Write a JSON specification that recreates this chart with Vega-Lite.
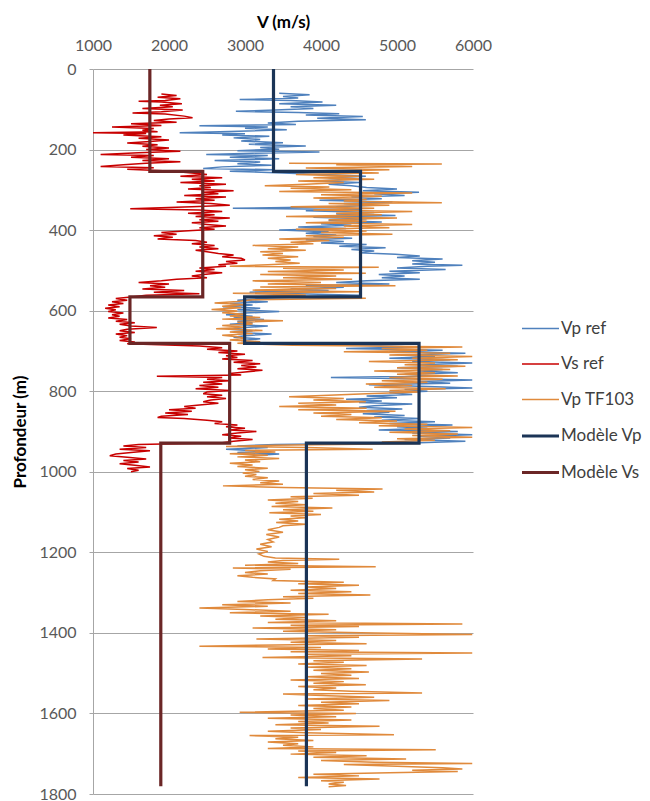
{
"$schema": "https://vega.github.io/schema/vega-lite/v6.json",
"autosize": {"type": "none"},
"width": 380, "height": 725,
"padding": {"left": 93, "top": 69, "right": 177, "bottom": 7},
"background": "white",
"config": {"view": {"stroke": null}, "font": "Lato"},
"data": {"values": [
{"s":"Vp ref","d":60,"v":3450},{"s":"Vp ref","d":64,"v":3850},{"s":"Vp ref","d":68,"v":3500},{"s":"Vp ref","d":72,"v":3700},{"s":"Vp ref","d":76,"v":2930},{"s":"Vp ref","d":78,"v":3600},{"s":"Vp ref","d":82,"v":4020},{"s":"Vp ref","d":86,"v":3450},{"s":"Vp ref","d":90,"v":4200},{"s":"Vp ref","d":94,"v":3600},{"s":"Vp ref","d":98,"v":3900},{"s":"Vp ref","d":102,"v":3400},{"s":"Vp ref","d":105,"v":2880},{"s":"Vp ref","d":108,"v":3700},{"s":"Vp ref","d":111,"v":4240},{"s":"Vp ref","d":114,"v":3800},{"s":"Vp ref","d":118,"v":4550},{"s":"Vp ref","d":122,"v":3950},{"s":"Vp ref","d":126,"v":4590},{"s":"Vp ref","d":130,"v":3700},{"s":"Vp ref","d":134,"v":3300},{"s":"Vp ref","d":138,"v":3670},{"s":"Vp ref","d":141,"v":2400},{"s":"Vp ref","d":144,"v":3300},{"s":"Vp ref","d":147,"v":3000},{"s":"Vp ref","d":151,"v":3550},{"s":"Vp ref","d":155,"v":2800},{"s":"Vp ref","d":158,"v":2140},{"s":"Vp ref","d":161,"v":3000},{"s":"Vp ref","d":164,"v":2700},{"s":"Vp ref","d":167,"v":3320},{"s":"Vp ref","d":171,"v":2850},{"s":"Vp ref","d":175,"v":3200},{"s":"Vp ref","d":179,"v":2950},{"s":"Vp ref","d":183,"v":3500},{"s":"Vp ref","d":187,"v":3050},{"s":"Vp ref","d":191,"v":3800},{"s":"Vp ref","d":195,"v":3200},{"s":"Vp ref","d":199,"v":3450},{"s":"Vp ref","d":203,"v":2900},{"s":"Vp ref","d":206,"v":3980},{"s":"Vp ref","d":209,"v":3100},{"s":"Vp ref","d":212,"v":2490},{"s":"Vp ref","d":215,"v":3300},{"s":"Vp ref","d":219,"v":2800},{"s":"Vp ref","d":223,"v":3450},{"s":"Vp ref","d":227,"v":2600},{"s":"Vp ref","d":231,"v":3200},{"s":"Vp ref","d":235,"v":2900},{"s":"Vp ref","d":239,"v":3350},{"s":"Vp ref","d":243,"v":2700},{"s":"Vp ref","d":247,"v":2450},{"s":"Vp ref","d":250,"v":3370},{"s":"Vp ref","d":254,"v":2800},{"s":"Vp ref","d":258,"v":3500},{"s":"Vp ref","d":262,"v":4020},{"s":"Vp ref","d":266,"v":4590},{"s":"Vp ref","d":270,"v":4100},{"s":"Vp ref","d":274,"v":4400},{"s":"Vp ref","d":278,"v":3950},{"s":"Vp ref","d":282,"v":4500},{"s":"Vp ref","d":286,"v":4100},{"s":"Vp ref","d":290,"v":4400},{"s":"Vp ref","d":294,"v":4600},{"s":"Vp ref","d":298,"v":5000},{"s":"Vp ref","d":302,"v":4550},{"s":"Vp ref","d":306,"v":5290},{"s":"Vp ref","d":310,"v":4700},{"s":"Vp ref","d":314,"v":5100},{"s":"Vp ref","d":318,"v":4400},{"s":"Vp ref","d":322,"v":4800},{"s":"Vp ref","d":326,"v":3980},{"s":"Vp ref","d":330,"v":4940},{"s":"Vp ref","d":334,"v":4300},{"s":"Vp ref","d":338,"v":4700},{"s":"Vp ref","d":342,"v":4200},{"s":"Vp ref","d":346,"v":2840},{"s":"Vp ref","d":349,"v":4500},{"s":"Vp ref","d":352,"v":3800},{"s":"Vp ref","d":356,"v":4700},{"s":"Vp ref","d":360,"v":4200},{"s":"Vp ref","d":364,"v":4980},{"s":"Vp ref","d":368,"v":3900},{"s":"Vp ref","d":372,"v":4600},{"s":"Vp ref","d":376,"v":4100},{"s":"Vp ref","d":380,"v":4800},{"s":"Vp ref","d":384,"v":4000},{"s":"Vp ref","d":388,"v":4400},{"s":"Vp ref","d":392,"v":3700},{"s":"Vp ref","d":396,"v":4330},{"s":"Vp ref","d":400,"v":3450},{"s":"Vp ref","d":404,"v":4100},{"s":"Vp ref","d":408,"v":3800},{"s":"Vp ref","d":412,"v":4200},{"s":"Vp ref","d":416,"v":3900},{"s":"Vp ref","d":420,"v":4410},{"s":"Vp ref","d":424,"v":3800},{"s":"Vp ref","d":428,"v":4300},{"s":"Vp ref","d":432,"v":4000},{"s":"Vp ref","d":436,"v":4600},{"s":"Vp ref","d":440,"v":4240},{"s":"Vp ref","d":444,"v":4850},{"s":"Vp ref","d":448,"v":4400},{"s":"Vp ref","d":452,"v":4700},{"s":"Vp ref","d":456,"v":4500},{"s":"Vp ref","d":460,"v":4980},{"s":"Vp ref","d":464,"v":5300},{"s":"Vp ref","d":468,"v":5000},{"s":"Vp ref","d":472,"v":5600},{"s":"Vp ref","d":476,"v":5200},{"s":"Vp ref","d":480,"v":5500},{"s":"Vp ref","d":484,"v":5200},{"s":"Vp ref","d":487,"v":5860},{"s":"Vp ref","d":490,"v":5400},{"s":"Vp ref","d":494,"v":5000},{"s":"Vp ref","d":498,"v":5640},{"s":"Vp ref","d":502,"v":4900},{"s":"Vp ref","d":506,"v":5300},{"s":"Vp ref","d":510,"v":4760},{"s":"Vp ref","d":514,"v":5100},{"s":"Vp ref","d":518,"v":4800},{"s":"Vp ref","d":522,"v":5300},{"s":"Vp ref","d":526,"v":4600},{"s":"Vp ref","d":530,"v":4200},{"s":"Vp ref","d":534,"v":4900},{"s":"Vp ref","d":538,"v":3800},{"s":"Vp ref","d":542,"v":4300},{"s":"Vp ref","d":546,"v":3600},{"s":"Vp ref","d":550,"v":4100},{"s":"Vp ref","d":554,"v":3060},{"s":"Vp ref","d":558,"v":3700},{"s":"Vp ref","d":562,"v":4500},{"s":"Vp ref","d":566,"v":3670},{"s":"Vp ref","d":570,"v":3200},{"s":"Vp ref","d":574,"v":2900},{"s":"Vp ref","d":578,"v":3300},{"s":"Vp ref","d":582,"v":2800},{"s":"Vp ref","d":586,"v":3100},{"s":"Vp ref","d":590,"v":2710},{"s":"Vp ref","d":594,"v":3200},{"s":"Vp ref","d":598,"v":2900},{"s":"Vp ref","d":602,"v":3450},{"s":"Vp ref","d":606,"v":3000},{"s":"Vp ref","d":610,"v":2750},{"s":"Vp ref","d":614,"v":3100},{"s":"Vp ref","d":618,"v":2850},{"s":"Vp ref","d":622,"v":3250},{"s":"Vp ref","d":626,"v":2900},{"s":"Vp ref","d":630,"v":3100},{"s":"Vp ref","d":634,"v":2800},{"s":"Vp ref","d":638,"v":3300},{"s":"Vp ref","d":642,"v":3000},{"s":"Vp ref","d":646,"v":2800},{"s":"Vp ref","d":650,"v":3100},{"s":"Vp ref","d":654,"v":2900},{"s":"Vp ref","d":658,"v":3350},{"s":"Vp ref","d":662,"v":3000},{"s":"Vp ref","d":666,"v":2850},{"s":"Vp ref","d":670,"v":3200},{"s":"Vp ref","d":674,"v":2950},{"s":"Vp ref","d":678,"v":3100},{"s":"Vp ref","d":682,"v":3400},{"s":"Vp ref","d":686,"v":4600},{"s":"Vp ref","d":690,"v":5200},{"s":"Vp ref","d":694,"v":4330},{"s":"Vp ref","d":698,"v":5600},{"s":"Vp ref","d":702,"v":4900},{"s":"Vp ref","d":706,"v":5900},{"s":"Vp ref","d":710,"v":5100},{"s":"Vp ref","d":714,"v":5500},{"s":"Vp ref","d":718,"v":4900},{"s":"Vp ref","d":722,"v":5700},{"s":"Vp ref","d":726,"v":5200},{"s":"Vp ref","d":730,"v":5990},{"s":"Vp ref","d":734,"v":5300},{"s":"Vp ref","d":738,"v":5800},{"s":"Vp ref","d":742,"v":5000},{"s":"Vp ref","d":746,"v":5600},{"s":"Vp ref","d":750,"v":5300},{"s":"Vp ref","d":754,"v":5800},{"s":"Vp ref","d":758,"v":5100},{"s":"Vp ref","d":762,"v":5500},{"s":"Vp ref","d":766,"v":4130},{"s":"Vp ref","d":769,"v":5200},{"s":"Vp ref","d":772,"v":5990},{"s":"Vp ref","d":776,"v":5300},{"s":"Vp ref","d":780,"v":5700},{"s":"Vp ref","d":784,"v":4630},{"s":"Vp ref","d":788,"v":5400},{"s":"Vp ref","d":792,"v":5990},{"s":"Vp ref","d":796,"v":5100},{"s":"Vp ref","d":800,"v":5400},{"s":"Vp ref","d":804,"v":4900},{"s":"Vp ref","d":808,"v":5200},{"s":"Vp ref","d":812,"v":4600},{"s":"Vp ref","d":816,"v":5000},{"s":"Vp ref","d":820,"v":4330},{"s":"Vp ref","d":824,"v":4800},{"s":"Vp ref","d":828,"v":4500},{"s":"Vp ref","d":832,"v":5200},{"s":"Vp ref","d":836,"v":4700},{"s":"Vp ref","d":840,"v":4500},{"s":"Vp ref","d":844,"v":5070},{"s":"Vp ref","d":848,"v":4600},{"s":"Vp ref","d":852,"v":4900},{"s":"Vp ref","d":856,"v":4550},{"s":"Vp ref","d":860,"v":5100},{"s":"Vp ref","d":864,"v":4700},{"s":"Vp ref","d":868,"v":5300},{"s":"Vp ref","d":872,"v":4800},{"s":"Vp ref","d":876,"v":5500},{"s":"Vp ref","d":880,"v":4900},{"s":"Vp ref","d":884,"v":5730},{"s":"Vp ref","d":888,"v":5000},{"s":"Vp ref","d":892,"v":5400},{"s":"Vp ref","d":896,"v":4760},{"s":"Vp ref","d":900,"v":5800},{"s":"Vp ref","d":904,"v":5200},{"s":"Vp ref","d":908,"v":5990},{"s":"Vp ref","d":912,"v":5300},{"s":"Vp ref","d":916,"v":5700},{"s":"Vp ref","d":920,"v":5100},{"s":"Vp ref","d":924,"v":5900},{"s":"Vp ref","d":928,"v":5300},{"s":"Vp ref","d":932,"v":3400},{"s":"Vp ref","d":936,"v":2900},{"s":"Vp ref","d":940,"v":3300},{"s":"Vp ref","d":944,"v":2750},{"s":"Vp ref","d":948,"v":3200},{"s":"Vp ref","d":952,"v":2900},{"s":"Vp ref","d":956,"v":3450},{"s":"Vp ref","d":960,"v":3100},
{"s":"Vs ref","d":62,"v":1900},{"s":"Vs ref","d":66,"v":2100},{"s":"Vs ref","d":70,"v":1850},{"s":"Vs ref","d":74,"v":2150},{"s":"Vs ref","d":78,"v":1950},{"s":"Vs ref","d":80,"v":1600},{"s":"Vs ref","d":82,"v":1900},{"s":"Vs ref","d":86,"v":2170},{"s":"Vs ref","d":90,"v":1880},{"s":"Vs ref","d":94,"v":2050},{"s":"Vs ref","d":98,"v":1650},{"s":"Vs ref","d":102,"v":2180},{"s":"Vs ref","d":106,"v":1900},{"s":"Vs ref","d":109,"v":1520},{"s":"Vs ref","d":112,"v":1950},{"s":"Vs ref","d":117,"v":2200},{"s":"Vs ref","d":121,"v":2310},{"s":"Vs ref","d":124,"v":2000},{"s":"Vs ref","d":128,"v":1800},{"s":"Vs ref","d":132,"v":2100},{"s":"Vs ref","d":136,"v":1500},{"s":"Vs ref","d":140,"v":1900},{"s":"Vs ref","d":144,"v":1250},{"s":"Vs ref","d":148,"v":1800},{"s":"Vs ref","d":152,"v":1650},{"s":"Vs ref","d":156,"v":1850},{"s":"Vs ref","d":158,"v":1000},{"s":"Vs ref","d":160,"v":1700},{"s":"Vs ref","d":164,"v":1400},{"s":"Vs ref","d":168,"v":1900},{"s":"Vs ref","d":172,"v":1600},{"s":"Vs ref","d":176,"v":2000},{"s":"Vs ref","d":180,"v":1750},{"s":"Vs ref","d":184,"v":1450},{"s":"Vs ref","d":188,"v":1850},{"s":"Vs ref","d":192,"v":1650},{"s":"Vs ref","d":196,"v":2000},{"s":"Vs ref","d":200,"v":1700},{"s":"Vs ref","d":204,"v":2150},{"s":"Vs ref","d":208,"v":1600},{"s":"Vs ref","d":212,"v":1100},{"s":"Vs ref","d":215,"v":1800},{"s":"Vs ref","d":219,"v":1500},{"s":"Vs ref","d":223,"v":2000},{"s":"Vs ref","d":227,"v":1650},{"s":"Vs ref","d":230,"v":2150},{"s":"Vs ref","d":234,"v":1700},{"s":"Vs ref","d":238,"v":1400},{"s":"Vs ref","d":242,"v":1100},{"s":"Vs ref","d":245,"v":1800},{"s":"Vs ref","d":249,"v":1450},{"s":"Vs ref","d":253,"v":2000},{"s":"Vs ref","d":258,"v":2300},{"s":"Vs ref","d":262,"v":2500},{"s":"Vs ref","d":266,"v":2150},{"s":"Vs ref","d":270,"v":2700},{"s":"Vs ref","d":274,"v":2300},{"s":"Vs ref","d":278,"v":2600},{"s":"Vs ref","d":282,"v":2150},{"s":"Vs ref","d":286,"v":2750},{"s":"Vs ref","d":290,"v":2400},{"s":"Vs ref","d":294,"v":2550},{"s":"Vs ref","d":298,"v":2250},{"s":"Vs ref","d":302,"v":2850},{"s":"Vs ref","d":306,"v":2450},{"s":"Vs ref","d":310,"v":2650},{"s":"Vs ref","d":314,"v":2200},{"s":"Vs ref","d":318,"v":2750},{"s":"Vs ref","d":322,"v":2350},{"s":"Vs ref","d":326,"v":2600},{"s":"Vs ref","d":330,"v":2100},{"s":"Vs ref","d":334,"v":2550},{"s":"Vs ref","d":338,"v":2800},{"s":"Vs ref","d":342,"v":2300},{"s":"Vs ref","d":347,"v":1490},{"s":"Vs ref","d":350,"v":2400},{"s":"Vs ref","d":354,"v":2700},{"s":"Vs ref","d":358,"v":2250},{"s":"Vs ref","d":362,"v":2600},{"s":"Vs ref","d":366,"v":2350},{"s":"Vs ref","d":370,"v":2800},{"s":"Vs ref","d":374,"v":2400},{"s":"Vs ref","d":378,"v":2650},{"s":"Vs ref","d":382,"v":2300},{"s":"Vs ref","d":386,"v":2500},{"s":"Vs ref","d":390,"v":2750},{"s":"Vs ref","d":394,"v":2400},{"s":"Vs ref","d":398,"v":2600},{"s":"Vs ref","d":402,"v":2200},{"s":"Vs ref","d":406,"v":1900},{"s":"Vs ref","d":410,"v":2100},{"s":"Vs ref","d":414,"v":1800},{"s":"Vs ref","d":418,"v":2050},{"s":"Vs ref","d":422,"v":1850},{"s":"Vs ref","d":426,"v":2350},{"s":"Vs ref","d":430,"v":2500},{"s":"Vs ref","d":434,"v":2300},{"s":"Vs ref","d":438,"v":2600},{"s":"Vs ref","d":442,"v":2400},{"s":"Vs ref","d":446,"v":2650},{"s":"Vs ref","d":450,"v":2350},{"s":"Vs ref","d":454,"v":2500},{"s":"Vs ref","d":458,"v":2650},{"s":"Vs ref","d":462,"v":2850},{"s":"Vs ref","d":466,"v":2700},{"s":"Vs ref","d":470,"v":2950},{"s":"Vs ref","d":474,"v":3000},{"s":"Vs ref","d":478,"v":2750},{"s":"Vs ref","d":482,"v":2900},{"s":"Vs ref","d":486,"v":2650},{"s":"Vs ref","d":490,"v":2750},{"s":"Vs ref","d":494,"v":2400},{"s":"Vs ref","d":498,"v":2600},{"s":"Vs ref","d":502,"v":2350},{"s":"Vs ref","d":506,"v":2700},{"s":"Vs ref","d":510,"v":2450},{"s":"Vs ref","d":514,"v":2300},{"s":"Vs ref","d":518,"v":2500},{"s":"Vs ref","d":522,"v":2100},{"s":"Vs ref","d":526,"v":1900},{"s":"Vs ref","d":530,"v":1600},{"s":"Vs ref","d":534,"v":2000},{"s":"Vs ref","d":538,"v":1750},{"s":"Vs ref","d":542,"v":1950},{"s":"Vs ref","d":546,"v":1650},{"s":"Vs ref","d":550,"v":2200},{"s":"Vs ref","d":554,"v":1800},{"s":"Vs ref","d":558,"v":2400},{"s":"Vs ref","d":562,"v":1700},{"s":"Vs ref","d":566,"v":1500},{"s":"Vs ref","d":570,"v":1300},{"s":"Vs ref","d":574,"v":1450},{"s":"Vs ref","d":578,"v":1250},{"s":"Vs ref","d":582,"v":1400},{"s":"Vs ref","d":586,"v":1200},{"s":"Vs ref","d":590,"v":1350},{"s":"Vs ref","d":594,"v":1160},{"s":"Vs ref","d":598,"v":1300},{"s":"Vs ref","d":602,"v":1200},{"s":"Vs ref","d":606,"v":1400},{"s":"Vs ref","d":610,"v":1250},{"s":"Vs ref","d":614,"v":1350},{"s":"Vs ref","d":618,"v":1200},{"s":"Vs ref","d":622,"v":1450},{"s":"Vs ref","d":626,"v":1300},{"s":"Vs ref","d":630,"v":1550},{"s":"Vs ref","d":634,"v":1350},{"s":"Vs ref","d":638,"v":1500},{"s":"Vs ref","d":642,"v":1840},{"s":"Vs ref","d":646,"v":1450},{"s":"Vs ref","d":650,"v":1350},{"s":"Vs ref","d":654,"v":1550},{"s":"Vs ref","d":658,"v":1300},{"s":"Vs ref","d":662,"v":1450},{"s":"Vs ref","d":666,"v":1350},{"s":"Vs ref","d":670,"v":1500},{"s":"Vs ref","d":674,"v":1350},{"s":"Vs ref","d":678,"v":1550},{"s":"Vs ref","d":682,"v":1450},{"s":"Vs ref","d":688,"v":2400},{"s":"Vs ref","d":692,"v":2700},{"s":"Vs ref","d":696,"v":2500},{"s":"Vs ref","d":700,"v":2900},{"s":"Vs ref","d":704,"v":2650},{"s":"Vs ref","d":708,"v":3000},{"s":"Vs ref","d":712,"v":2750},{"s":"Vs ref","d":716,"v":2900},{"s":"Vs ref","d":720,"v":2700},{"s":"Vs ref","d":724,"v":3100},{"s":"Vs ref","d":728,"v":2850},{"s":"Vs ref","d":732,"v":3200},{"s":"Vs ref","d":736,"v":2950},{"s":"Vs ref","d":740,"v":3150},{"s":"Vs ref","d":744,"v":2900},{"s":"Vs ref","d":748,"v":3230},{"s":"Vs ref","d":752,"v":3000},{"s":"Vs ref","d":756,"v":2800},{"s":"Vs ref","d":760,"v":2950},{"s":"Vs ref","d":763,"v":1840},{"s":"Vs ref","d":766,"v":2700},{"s":"Vs ref","d":770,"v":2500},{"s":"Vs ref","d":774,"v":2800},{"s":"Vs ref","d":778,"v":2450},{"s":"Vs ref","d":782,"v":2700},{"s":"Vs ref","d":786,"v":2400},{"s":"Vs ref","d":790,"v":2650},{"s":"Vs ref","d":794,"v":2350},{"s":"Vs ref","d":798,"v":2800},{"s":"Vs ref","d":802,"v":2500},{"s":"Vs ref","d":806,"v":2450},{"s":"Vs ref","d":810,"v":2700},{"s":"Vs ref","d":814,"v":2500},{"s":"Vs ref","d":818,"v":2750},{"s":"Vs ref","d":822,"v":2550},{"s":"Vs ref","d":826,"v":2450},{"s":"Vs ref","d":830,"v":2650},{"s":"Vs ref","d":834,"v":2400},{"s":"Vs ref","d":838,"v":2200},{"s":"Vs ref","d":842,"v":2350},{"s":"Vs ref","d":846,"v":2000},{"s":"Vs ref","d":850,"v":2300},{"s":"Vs ref","d":854,"v":1950},{"s":"Vs ref","d":858,"v":2250},{"s":"Vs ref","d":862,"v":1900},{"s":"Vs ref","d":865,"v":1850},{"s":"Vs ref","d":868,"v":2200},{"s":"Vs ref","d":872,"v":2500},{"s":"Vs ref","d":876,"v":2700},{"s":"Vs ref","d":880,"v":2600},{"s":"Vs ref","d":884,"v":2900},{"s":"Vs ref","d":888,"v":2750},{"s":"Vs ref","d":892,"v":3000},{"s":"Vs ref","d":896,"v":2800},{"s":"Vs ref","d":900,"v":3150},{"s":"Vs ref","d":904,"v":2900},{"s":"Vs ref","d":908,"v":2700},{"s":"Vs ref","d":912,"v":2950},{"s":"Vs ref","d":916,"v":2800},{"s":"Vs ref","d":920,"v":3100},{"s":"Vs ref","d":924,"v":2850},{"s":"Vs ref","d":928,"v":2700},{"s":"Vs ref","d":932,"v":1600},{"s":"Vs ref","d":936,"v":1400},{"s":"Vs ref","d":940,"v":1700},{"s":"Vs ref","d":944,"v":1350},{"s":"Vs ref","d":948,"v":1750},{"s":"Vs ref","d":952,"v":1500},{"s":"Vs ref","d":956,"v":1300},{"s":"Vs ref","d":960,"v":1220},{"s":"Vs ref","d":964,"v":1450},{"s":"Vs ref","d":968,"v":1700},{"s":"Vs ref","d":972,"v":1400},{"s":"Vs ref","d":976,"v":1600},{"s":"Vs ref","d":980,"v":1350},{"s":"Vs ref","d":984,"v":1550},{"s":"Vs ref","d":988,"v":1750},{"s":"Vs ref","d":992,"v":1450},{"s":"Vs ref","d":996,"v":1600},{"s":"Vs ref","d":1000,"v":1500},
{"s":"Vp TF103","d":234,"v":3580},{"s":"Vp TF103","d":236,"v":5590},{"s":"Vp TF103","d":238,"v":4200},{"s":"Vp TF103","d":242,"v":5200},{"s":"Vp TF103","d":246,"v":3800},{"s":"Vp TF103","d":250,"v":4900},{"s":"Vp TF103","d":254,"v":4000},{"s":"Vp TF103","d":258,"v":4760},{"s":"Vp TF103","d":262,"v":3670},{"s":"Vp TF103","d":266,"v":4500},{"s":"Vp TF103","d":270,"v":3900},{"s":"Vp TF103","d":274,"v":4700},{"s":"Vp TF103","d":278,"v":3700},{"s":"Vp TF103","d":282,"v":4300},{"s":"Vp TF103","d":286,"v":3800},{"s":"Vp TF103","d":290,"v":3260},{"s":"Vp TF103","d":293,"v":4110},{"s":"Vp TF103","d":296,"v":3600},{"s":"Vp TF103","d":300,"v":4400},{"s":"Vp TF103","d":304,"v":3450},{"s":"Vp TF103","d":308,"v":5200},{"s":"Vp TF103","d":312,"v":4000},{"s":"Vp TF103","d":316,"v":4800},{"s":"Vp TF103","d":320,"v":3900},{"s":"Vp TF103","d":324,"v":4600},{"s":"Vp TF103","d":328,"v":4300},{"s":"Vp TF103","d":332,"v":5590},{"s":"Vp TF103","d":334,"v":4100},{"s":"Vp TF103","d":338,"v":4900},{"s":"Vp TF103","d":342,"v":3600},{"s":"Vp TF103","d":346,"v":4700},{"s":"Vp TF103","d":350,"v":3900},{"s":"Vp TF103","d":354,"v":5200},{"s":"Vp TF103","d":358,"v":4200},{"s":"Vp TF103","d":362,"v":4800},{"s":"Vp TF103","d":366,"v":3540},{"s":"Vp TF103","d":370,"v":5000},{"s":"Vp TF103","d":374,"v":4100},{"s":"Vp TF103","d":378,"v":4600},{"s":"Vp TF103","d":382,"v":3800},{"s":"Vp TF103","d":386,"v":5200},{"s":"Vp TF103","d":390,"v":4300},{"s":"Vp TF103","d":394,"v":4900},{"s":"Vp TF103","d":398,"v":3670},{"s":"Vp TF103","d":402,"v":4600},{"s":"Vp TF103","d":406,"v":4000},{"s":"Vp TF103","d":410,"v":4940},{"s":"Vp TF103","d":414,"v":3800},{"s":"Vp TF103","d":418,"v":4300},{"s":"Vp TF103","d":422,"v":3450},{"s":"Vp TF103","d":426,"v":4110},{"s":"Vp TF103","d":430,"v":3600},{"s":"Vp TF103","d":434,"v":3900},{"s":"Vp TF103","d":438,"v":3100},{"s":"Vp TF103","d":442,"v":3700},{"s":"Vp TF103","d":446,"v":3300},{"s":"Vp TF103","d":450,"v":3800},{"s":"Vp TF103","d":454,"v":3200},{"s":"Vp TF103","d":458,"v":3500},{"s":"Vp TF103","d":462,"v":3230},{"s":"Vp TF103","d":466,"v":3700},{"s":"Vp TF103","d":470,"v":3300},{"s":"Vp TF103","d":474,"v":3600},{"s":"Vp TF103","d":478,"v":3400},{"s":"Vp TF103","d":482,"v":3720},{"s":"Vp TF103","d":486,"v":3300},{"s":"Vp TF103","d":490,"v":2800},{"s":"Vp TF103","d":492,"v":4760},{"s":"Vp TF103","d":495,"v":3500},{"s":"Vp TF103","d":499,"v":4300},{"s":"Vp TF103","d":503,"v":3300},{"s":"Vp TF103","d":507,"v":4590},{"s":"Vp TF103","d":510,"v":3200},{"s":"Vp TF103","d":514,"v":4200},{"s":"Vp TF103","d":518,"v":3500},{"s":"Vp TF103","d":522,"v":4410},{"s":"Vp TF103","d":526,"v":3100},{"s":"Vp TF103","d":530,"v":4000},{"s":"Vp TF103","d":534,"v":3300},{"s":"Vp TF103","d":538,"v":4980},{"s":"Vp TF103","d":541,"v":3200},{"s":"Vp TF103","d":545,"v":4200},{"s":"Vp TF103","d":549,"v":3100},{"s":"Vp TF103","d":553,"v":4500},{"s":"Vp TF103","d":557,"v":2840},{"s":"Vp TF103","d":561,"v":3800},{"s":"Vp TF103","d":565,"v":3200},{"s":"Vp TF103","d":569,"v":4590},{"s":"Vp TF103","d":573,"v":3100},{"s":"Vp TF103","d":577,"v":2900},{"s":"Vp TF103","d":581,"v":2600},{"s":"Vp TF103","d":585,"v":3000},{"s":"Vp TF103","d":589,"v":2700},{"s":"Vp TF103","d":593,"v":2950},{"s":"Vp TF103","d":597,"v":2560},{"s":"Vp TF103","d":601,"v":2900},{"s":"Vp TF103","d":605,"v":2700},{"s":"Vp TF103","d":609,"v":3010},{"s":"Vp TF103","d":613,"v":2800},{"s":"Vp TF103","d":617,"v":3200},{"s":"Vp TF103","d":621,"v":2700},{"s":"Vp TF103","d":625,"v":3500},{"s":"Vp TF103","d":629,"v":2900},{"s":"Vp TF103","d":633,"v":3100},{"s":"Vp TF103","d":637,"v":2700},{"s":"Vp TF103","d":641,"v":3000},{"s":"Vp TF103","d":645,"v":2620},{"s":"Vp TF103","d":649,"v":3230},{"s":"Vp TF103","d":653,"v":2800},{"s":"Vp TF103","d":657,"v":3100},{"s":"Vp TF103","d":661,"v":2700},{"s":"Vp TF103","d":665,"v":2900},{"s":"Vp TF103","d":669,"v":3000},{"s":"Vp TF103","d":673,"v":2800},{"s":"Vp TF103","d":677,"v":3200},{"s":"Vp TF103","d":681,"v":2900},{"s":"Vp TF103","d":686,"v":3630},{"s":"Vp TF103","d":690,"v":5860},{"s":"Vp TF103","d":694,"v":4800},{"s":"Vp TF103","d":698,"v":5400},{"s":"Vp TF103","d":702,"v":4300},{"s":"Vp TF103","d":706,"v":5700},{"s":"Vp TF103","d":710,"v":4900},{"s":"Vp TF103","d":714,"v":5990},{"s":"Vp TF103","d":718,"v":5200},{"s":"Vp TF103","d":722,"v":5800},{"s":"Vp TF103","d":726,"v":4630},{"s":"Vp TF103","d":730,"v":5500},{"s":"Vp TF103","d":734,"v":5100},{"s":"Vp TF103","d":738,"v":5900},{"s":"Vp TF103","d":742,"v":5000},{"s":"Vp TF103","d":746,"v":5700},{"s":"Vp TF103","d":750,"v":4700},{"s":"Vp TF103","d":754,"v":5500},{"s":"Vp TF103","d":758,"v":5000},{"s":"Vp TF103","d":762,"v":5800},{"s":"Vp TF103","d":766,"v":4900},{"s":"Vp TF103","d":770,"v":5600},{"s":"Vp TF103","d":774,"v":4800},{"s":"Vp TF103","d":778,"v":5400},{"s":"Vp TF103","d":782,"v":4590},{"s":"Vp TF103","d":786,"v":5200},{"s":"Vp TF103","d":790,"v":4700},{"s":"Vp TF103","d":794,"v":5640},{"s":"Vp TF103","d":798,"v":4900},{"s":"Vp TF103","d":802,"v":5300},{"s":"Vp TF103","d":806,"v":4600},{"s":"Vp TF103","d":810,"v":4100},{"s":"Vp TF103","d":814,"v":3580},{"s":"Vp TF103","d":818,"v":4300},{"s":"Vp TF103","d":822,"v":3900},{"s":"Vp TF103","d":826,"v":4590},{"s":"Vp TF103","d":830,"v":3700},{"s":"Vp TF103","d":834,"v":4200},{"s":"Vp TF103","d":838,"v":3450},{"s":"Vp TF103","d":842,"v":4600},{"s":"Vp TF103","d":846,"v":3700},{"s":"Vp TF103","d":850,"v":4980},{"s":"Vp TF103","d":854,"v":3900},{"s":"Vp TF103","d":858,"v":4400},{"s":"Vp TF103","d":862,"v":4000},{"s":"Vp TF103","d":866,"v":4800},{"s":"Vp TF103","d":870,"v":4200},{"s":"Vp TF103","d":874,"v":5000},{"s":"Vp TF103","d":878,"v":4500},{"s":"Vp TF103","d":882,"v":5400},{"s":"Vp TF103","d":886,"v":4760},{"s":"Vp TF103","d":890,"v":5990},{"s":"Vp TF103","d":894,"v":5100},{"s":"Vp TF103","d":898,"v":5700},{"s":"Vp TF103","d":902,"v":4900},{"s":"Vp TF103","d":906,"v":5800},{"s":"Vp TF103","d":910,"v":5200},{"s":"Vp TF103","d":914,"v":5990},{"s":"Vp TF103","d":918,"v":5000},{"s":"Vp TF103","d":922,"v":5500},{"s":"Vp TF103","d":926,"v":4800},{"s":"Vp TF103","d":930,"v":5300},{"s":"Vp TF103","d":934,"v":3400},{"s":"Vp TF103","d":937,"v":2750},{"s":"Vp TF103","d":940,"v":3800},{"s":"Vp TF103","d":944,"v":4680},{"s":"Vp TF103","d":947,"v":3000},{"s":"Vp TF103","d":951,"v":3400},{"s":"Vp TF103","d":955,"v":2800},{"s":"Vp TF103","d":959,"v":3300},{"s":"Vp TF103","d":963,"v":2900},{"s":"Vp TF103","d":967,"v":3450},{"s":"Vp TF103","d":971,"v":3000},{"s":"Vp TF103","d":975,"v":3200},{"s":"Vp TF103","d":979,"v":2800},{"s":"Vp TF103","d":983,"v":3100},{"s":"Vp TF103","d":987,"v":2900},{"s":"Vp TF103","d":991,"v":3300},{"s":"Vp TF103","d":995,"v":3000},{"s":"Vp TF103","d":999,"v":3190},{"s":"Vp TF103","d":1003,"v":2970},{"s":"Vp TF103","d":1007,"v":3150},{"s":"Vp TF103","d":1011,"v":3000},{"s":"Vp TF103","d":1015,"v":3300},{"s":"Vp TF103","d":1019,"v":3100},{"s":"Vp TF103","d":1023,"v":3450},{"s":"Vp TF103","d":1027,"v":3200},{"s":"Vp TF103","d":1031,"v":3500},{"s":"Vp TF103","d":1035,"v":2710},{"s":"Vp TF103","d":1039,"v":3500},{"s":"Vp TF103","d":1043,"v":4810},{"s":"Vp TF103","d":1046,"v":4200},{"s":"Vp TF103","d":1050,"v":4700},{"s":"Vp TF103","d":1054,"v":3900},{"s":"Vp TF103","d":1058,"v":4500},{"s":"Vp TF103","d":1062,"v":3600},{"s":"Vp TF103","d":1066,"v":3890},{"s":"Vp TF103","d":1070,"v":3300},{"s":"Vp TF103","d":1074,"v":3700},{"s":"Vp TF103","d":1078,"v":3400},{"s":"Vp TF103","d":1082,"v":3800},{"s":"Vp TF103","d":1086,"v":3350},{"s":"Vp TF103","d":1090,"v":4150},{"s":"Vp TF103","d":1094,"v":3500},{"s":"Vp TF103","d":1098,"v":3900},{"s":"Vp TF103","d":1102,"v":3320},{"s":"Vp TF103","d":1106,"v":4000},{"s":"Vp TF103","d":1110,"v":3600},{"s":"Vp TF103","d":1114,"v":3800},{"s":"Vp TF103","d":1118,"v":3450},{"s":"Vp TF103","d":1122,"v":3700},{"s":"Vp TF103","d":1126,"v":3410},{"s":"Vp TF103","d":1130,"v":3800},{"s":"Vp TF103","d":1134,"v":3500},{"s":"Vp TF103","d":1138,"v":3450},{"s":"Vp TF103","d":1144,"v":3300},{"s":"Vp TF103","d":1150,"v":3500},{"s":"Vp TF103","d":1156,"v":3280},{"s":"Vp TF103","d":1162,"v":3450},{"s":"Vp TF103","d":1168,"v":3300},{"s":"Vp TF103","d":1174,"v":3370},{"s":"Vp TF103","d":1180,"v":3200},{"s":"Vp TF103","d":1186,"v":3350},{"s":"Vp TF103","d":1192,"v":3150},{"s":"Vp TF103","d":1198,"v":3300},{"s":"Vp TF103","d":1204,"v":3180},{"s":"Vp TF103","d":1210,"v":3250},{"s":"Vp TF103","d":1214,"v":3400},{"s":"Vp TF103","d":1217,"v":4240},{"s":"Vp TF103","d":1220,"v":3500},{"s":"Vp TF103","d":1224,"v":3300},{"s":"Vp TF103","d":1228,"v":3700},{"s":"Vp TF103","d":1232,"v":3000},{"s":"Vp TF103","d":1236,"v":4720},{"s":"Vp TF103","d":1239,"v":2840},{"s":"Vp TF103","d":1242,"v":3600},{"s":"Vp TF103","d":1246,"v":3200},{"s":"Vp TF103","d":1250,"v":3000},{"s":"Vp TF103","d":1254,"v":3300},{"s":"Vp TF103","d":1258,"v":2900},{"s":"Vp TF103","d":1262,"v":3100},{"s":"Vp TF103","d":1266,"v":3400},{"s":"Vp TF103","d":1270,"v":3370},{"s":"Vp TF103","d":1274,"v":4300},{"s":"Vp TF103","d":1278,"v":3700},{"s":"Vp TF103","d":1282,"v":4500},{"s":"Vp TF103","d":1286,"v":3800},{"s":"Vp TF103","d":1290,"v":4200},{"s":"Vp TF103","d":1294,"v":3600},{"s":"Vp TF103","d":1298,"v":4400},{"s":"Vp TF103","d":1302,"v":3700},{"s":"Vp TF103","d":1306,"v":4650},{"s":"Vp TF103","d":1310,"v":3500},{"s":"Vp TF103","d":1314,"v":3900},{"s":"Vp TF103","d":1318,"v":3300},{"s":"Vp TF103","d":1322,"v":2900},{"s":"Vp TF103","d":1326,"v":3600},{"s":"Vp TF103","d":1330,"v":2700},{"s":"Vp TF103","d":1334,"v":3300},{"s":"Vp TF103","d":1338,"v":2400},{"s":"Vp TF103","d":1342,"v":3000},{"s":"Vp TF103","d":1346,"v":3600},{"s":"Vp TF103","d":1350,"v":2800},{"s":"Vp TF103","d":1354,"v":4100},{"s":"Vp TF103","d":1358,"v":3200},{"s":"Vp TF103","d":1362,"v":3800},{"s":"Vp TF103","d":1366,"v":3400},{"s":"Vp TF103","d":1370,"v":4200},{"s":"Vp TF103","d":1374,"v":3300},{"s":"Vp TF103","d":1378,"v":5860},{"s":"Vp TF103","d":1381,"v":3600},{"s":"Vp TF103","d":1384,"v":4500},{"s":"Vp TF103","d":1388,"v":3100},{"s":"Vp TF103","d":1392,"v":4200},{"s":"Vp TF103","d":1396,"v":3500},{"s":"Vp TF103","d":1400,"v":4700},{"s":"Vp TF103","d":1404,"v":5990},{"s":"Vp TF103","d":1407,"v":3800},{"s":"Vp TF103","d":1411,"v":4500},{"s":"Vp TF103","d":1415,"v":3150},{"s":"Vp TF103","d":1419,"v":4200},{"s":"Vp TF103","d":1423,"v":3600},{"s":"Vp TF103","d":1427,"v":4600},{"s":"Vp TF103","d":1430,"v":3400},{"s":"Vp TF103","d":1433,"v":2400},{"s":"Vp TF103","d":1436,"v":4000},{"s":"Vp TF103","d":1440,"v":3300},{"s":"Vp TF103","d":1444,"v":4500},{"s":"Vp TF103","d":1447,"v":3600},{"s":"Vp TF103","d":1450,"v":5990},{"s":"Vp TF103","d":1453,"v":3800},{"s":"Vp TF103","d":1457,"v":4400},{"s":"Vp TF103","d":1461,"v":3230},{"s":"Vp TF103","d":1465,"v":5330},{"s":"Vp TF103","d":1469,"v":3900},{"s":"Vp TF103","d":1473,"v":4300},{"s":"Vp TF103","d":1477,"v":3700},{"s":"Vp TF103","d":1481,"v":4600},{"s":"Vp TF103","d":1485,"v":3800},{"s":"Vp TF103","d":1489,"v":4400},{"s":"Vp TF103","d":1493,"v":3900},{"s":"Vp TF103","d":1497,"v":4630},{"s":"Vp TF103","d":1501,"v":4000},{"s":"Vp TF103","d":1505,"v":4400},{"s":"Vp TF103","d":1509,"v":3800},{"s":"Vp TF103","d":1513,"v":4500},{"s":"Vp TF103","d":1517,"v":3600},{"s":"Vp TF103","d":1521,"v":4300},{"s":"Vp TF103","d":1525,"v":3900},{"s":"Vp TF103","d":1529,"v":4590},{"s":"Vp TF103","d":1533,"v":3700},{"s":"Vp TF103","d":1537,"v":4200},{"s":"Vp TF103","d":1541,"v":3900},{"s":"Vp TF103","d":1545,"v":4400},{"s":"Vp TF103","d":1549,"v":5330},{"s":"Vp TF103","d":1552,"v":3500},{"s":"Vp TF103","d":1556,"v":4100},{"s":"Vp TF103","d":1560,"v":4700},{"s":"Vp TF103","d":1564,"v":3800},{"s":"Vp TF103","d":1568,"v":4900},{"s":"Vp TF103","d":1572,"v":4000},{"s":"Vp TF103","d":1576,"v":4500},{"s":"Vp TF103","d":1580,"v":3700},{"s":"Vp TF103","d":1584,"v":4400},{"s":"Vp TF103","d":1588,"v":3900},{"s":"Vp TF103","d":1592,"v":4300},{"s":"Vp TF103","d":1597,"v":2930},{"s":"Vp TF103","d":1600,"v":4460},{"s":"Vp TF103","d":1604,"v":3600},{"s":"Vp TF103","d":1608,"v":4200},{"s":"Vp TF103","d":1612,"v":3300},{"s":"Vp TF103","d":1616,"v":4400},{"s":"Vp TF103","d":1620,"v":3700},{"s":"Vp TF103","d":1624,"v":4100},{"s":"Vp TF103","d":1628,"v":3400},{"s":"Vp TF103","d":1632,"v":4770},{"s":"Vp TF103","d":1636,"v":3600},{"s":"Vp TF103","d":1640,"v":4000},{"s":"Vp TF103","d":1644,"v":3300},{"s":"Vp TF103","d":1648,"v":3800},{"s":"Vp TF103","d":1653,"v":4960},{"s":"Vp TF103","d":1655,"v":3060},{"s":"Vp TF103","d":1659,"v":3700},{"s":"Vp TF103","d":1663,"v":3400},{"s":"Vp TF103","d":1667,"v":3900},{"s":"Vp TF103","d":1671,"v":3300},{"s":"Vp TF103","d":1675,"v":3700},{"s":"Vp TF103","d":1679,"v":3500},{"s":"Vp TF103","d":1683,"v":3900},{"s":"Vp TF103","d":1687,"v":3300},{"s":"Vp TF103","d":1690,"v":5510},{"s":"Vp TF103","d":1693,"v":3700},{"s":"Vp TF103","d":1697,"v":4200},{"s":"Vp TF103","d":1701,"v":3600},{"s":"Vp TF103","d":1705,"v":4600},{"s":"Vp TF103","d":1709,"v":3900},{"s":"Vp TF103","d":1713,"v":5120},{"s":"Vp TF103","d":1717,"v":4000},{"s":"Vp TF103","d":1721,"v":4700},{"s":"Vp TF103","d":1724,"v":5990},{"s":"Vp TF103","d":1727,"v":4300},{"s":"Vp TF103","d":1731,"v":5000},{"s":"Vp TF103","d":1735,"v":5600},{"s":"Vp TF103","d":1738,"v":5860},{"s":"Vp TF103","d":1741,"v":5200},{"s":"Vp TF103","d":1744,"v":5800},{"s":"Vp TF103","d":1747,"v":4900},{"s":"Vp TF103","d":1751,"v":3900},{"s":"Vp TF103","d":1755,"v":4500},{"s":"Vp TF103","d":1759,"v":3700},{"s":"Vp TF103","d":1763,"v":4770},{"s":"Vp TF103","d":1767,"v":4000},{"s":"Vp TF103","d":1771,"v":4300},{"s":"Vp TF103","d":1775,"v":4100},{"s":"Vp TF103","d":1779,"v":4330},{"s":"Vp TF103","d":1782,"v":4100},
{"s":"Modèle Vp","d":0,"v":3375},{"s":"Modèle Vp","d":254,"v":3375},{"s":"Modèle Vp","d":254,"v":4520},{"s":"Modèle Vp","d":566,"v":4520},{"s":"Modèle Vp","d":566,"v":2995},{"s":"Modèle Vp","d":681,"v":2995},{"s":"Modèle Vp","d":681,"v":5290},{"s":"Modèle Vp","d":929,"v":5290},{"s":"Modèle Vp","d":929,"v":3808},{"s":"Modèle Vp","d":1781,"v":3808},
{"s":"Modèle Vs","d":0,"v":1748},{"s":"Modèle Vs","d":254,"v":1748},{"s":"Modèle Vs","d":254,"v":2444},{"s":"Modèle Vs","d":566,"v":2444},{"s":"Modèle Vs","d":566,"v":1486},{"s":"Modèle Vs","d":681,"v":1486},{"s":"Modèle Vs","d":681,"v":2798},{"s":"Modèle Vs","d":929,"v":2798},{"s":"Modèle Vs","d":929,"v":1892},{"s":"Modèle Vs","d":1781,"v":1892}
]},
"mark": {"type": "line", "clip": true, "strokeJoin": "miter", "strokeCap": "butt"},
"encoding": {
  "x": {"field": "v", "type": "quantitative",
        "scale": {"domain": [1000, 6000], "nice": false, "zero": false},
        "axis": {"orient": "top", "title": "V (m/s)", "values": [1000, 2000, 3000, 4000, 5000, 6000], "format": "d",
                 "grid": false, "domain": false, "ticks": false, "labelPadding": 16,
                 "labelFontSize": 16, "labelColor": "#595959", "titleFontSize": 17, "titleFontWeight": "bold",
                 "titleColor": "#000000", "titlePadding": 6, "labelFlush": false}},
  "y": {"field": "d", "type": "quantitative",
        "scale": {"domain": [0, 1800], "nice": false, "reverse": true, "zero": false},
        "axis": {"title": "Profondeur (m)", "values": [0, 200, 400, 600, 800, 1000, 1200, 1400, 1600, 1800], "format": "d",
                 "grid": true, "gridColor": "#A6A6A6", "gridWidth": 1, "gridOpacity": 1,
                 "domain": true, "domainColor": "#A6A6A6", "domainWidth": 1,
                 "ticks": true, "tickSize": 4, "tickColor": "#A6A6A6", "labelPadding": 13,
                 "labelFontSize": 16, "labelColor": "#595959", "titleFontSize": 17, "titleFontWeight": "bold",
                 "titleColor": "#000000", "titlePadding": 9, "labelFlush": false}},
  "color": {"field": "s", "type": "nominal",
            "scale": {"domain": ["Vp ref", "Vs ref", "Vp TF103", "Modèle Vp", "Modèle Vs"],
                      "range": ["#4F81BD", "#C80000", "#E08A3C", "#1B3456", "#6B2626"]},
            "legend": {"title": null, "orient": "none", "legendX": 427, "legendY": 240, "padding": 0,
                       "symbolType": "stroke", "symbolSize": 1369, "rowPadding": 7.5, "labelOffset": 0,
                       "labelFontSize": 17, "labelColor": "#404040"}},
  "strokeWidth": {"field": "s", "type": "nominal",
            "scale": {"type": "ordinal", "domain": ["Vp ref", "Vs ref", "Vp TF103", "Modèle Vp", "Modèle Vs"],
                      "range": [1.5, 1.5, 1.5, 3.2, 3.2]},
            "legend": {"title": null, "orient": "none", "legendX": 427, "legendY": 240, "padding": 0,
                       "symbolType": "stroke", "symbolSize": 1369, "rowPadding": 7.5, "labelOffset": 0,
                       "labelFontSize": 17, "labelColor": "#404040"}},
  "order": {"field": "d", "type": "quantitative"}
}
}
